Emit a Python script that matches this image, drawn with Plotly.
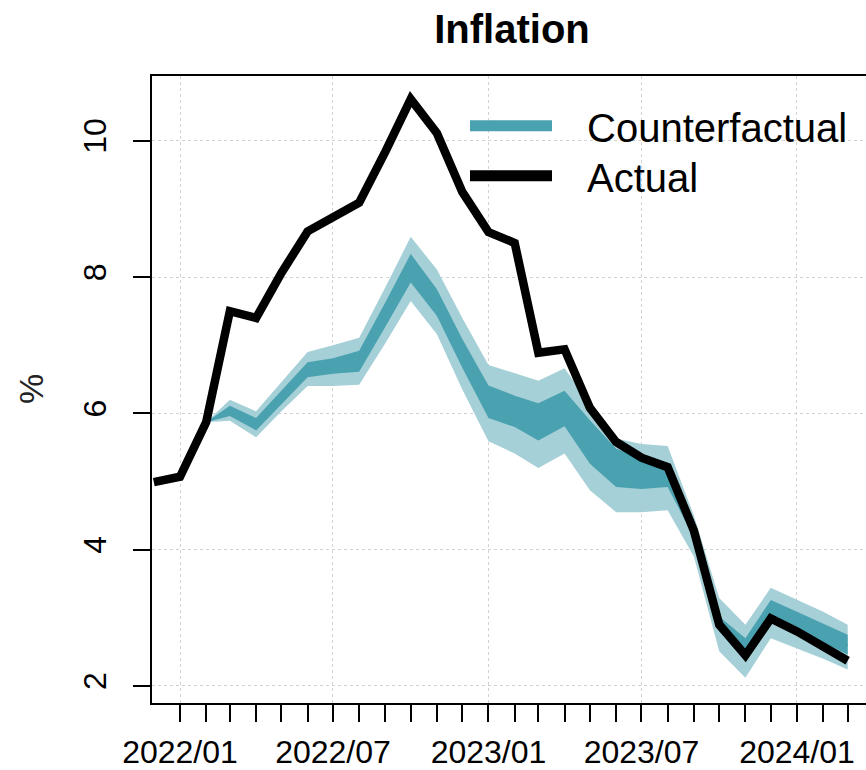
import plotly.graph_objects as go

# ---------------- data ----------------
months = ["2021-12-01", "2022-01-01", "2022-02-01", "2022-03-01", "2022-04-01", "2022-05-01",
          "2022-06-01", "2022-07-01", "2022-08-01", "2022-09-01", "2022-10-01", "2022-11-01",
          "2022-12-01", "2023-01-01", "2023-02-01", "2023-03-01", "2023-04-01", "2023-05-01",
          "2023-06-01", "2023-07-01", "2023-08-01", "2023-09-01", "2023-10-01", "2023-11-01",
          "2023-12-01", "2024-01-01", "2024-02-01", "2024-03-01"]

actual = [4.99, 5.07, 5.87, 7.50, 7.40, 8.06, 8.67, 8.87, 9.09, 9.84, 10.61, 10.11,
          9.25, 8.66, 8.50, 6.89, 6.94, 6.08, 5.58, 5.35, 5.21, 4.28, 2.90, 2.45,
          2.99, 2.80, 2.58, 2.37]

# counterfactual (from 2022-02 onwards)
cf_months = months[2:]
cf_hi95 = [5.87, 6.20, 6.03, 6.46, 6.90, 7.00, 7.11, 7.85, 8.59, 8.11, 7.40, 6.71, 6.59,
           6.48, 6.66, 6.14, 5.63, 5.55, 5.52, 4.50, 3.29, 2.90, 3.44, 3.27, 3.09, 2.90]
cf_hi68 = [5.87, 6.11, 5.93, 6.34, 6.75, 6.81, 6.92, 7.63, 8.34, 7.82, 7.09, 6.41, 6.26,
           6.15, 6.33, 5.90, 5.48, 5.36, 5.28, 4.38, 3.02, 2.70, 3.26, 3.09, 2.92, 2.75]
cf_med  = [5.87, 6.04, 5.84, 6.24, 6.64, 6.70, 6.77, 7.45, 8.13, 7.63, 6.88, 6.17, 6.03,
           5.88, 6.07, 5.58, 5.20, 5.12, 5.10, 4.28, 2.91, 2.58, 3.13, 2.95, 2.78, 2.60]
cf_lo68 = [5.87, 5.96, 5.75, 6.14, 6.53, 6.58, 6.61, 7.27, 7.92, 7.43, 6.67, 5.93, 5.80,
           5.60, 5.81, 5.26, 4.92, 4.89, 4.92, 4.18, 2.80, 2.46, 2.99, 2.82, 2.64, 2.46]
cf_lo95 = [5.87, 5.89, 5.65, 6.03, 6.40, 6.40, 6.42, 7.03, 7.65, 7.16, 6.35, 5.59, 5.41,
           5.20, 5.41, 4.87, 4.55, 4.55, 4.58, 3.90, 2.51, 2.12, 2.70, 2.55, 2.40, 2.24]

label_ticks = ["2022-01-01", "2022-07-01", "2023-01-01", "2023-07-01", "2024-01-01"]
label_text = ["2022/01", "2022/07", "2023/01", "2023/07", "2024/01"]
minor_ticks = months[1:]
y_ticks = [2, 4, 6, 8, 10]

# ---------------- style ----------------
DARK = "#4aa1b0"
LIGHT = "#a6d0d7"
FONT = "Liberation Sans, Arial, sans-serif"
W, H = 866, 770
L, R, T, B = 152, 0, 76, 65
PW, PH = W - L - R, H - T - B


def px(x):
    return (x - L) / PW


def py(y):
    return (H - B - y) / PH


fig = go.Figure()

fig.add_trace(go.Scatter(x=cf_months, y=cf_lo95, mode="lines", line=dict(width=0, color=LIGHT),
                         showlegend=False, hoverinfo="skip"))
fig.add_trace(go.Scatter(x=cf_months, y=cf_hi95, mode="lines", line=dict(width=0, color=LIGHT),
                         fill="tonexty", fillcolor=LIGHT, showlegend=False, hoverinfo="skip"))
fig.add_trace(go.Scatter(x=cf_months, y=cf_lo68, mode="lines", line=dict(width=0, color=DARK),
                         showlegend=False, hoverinfo="skip"))
fig.add_trace(go.Scatter(x=cf_months, y=cf_hi68, mode="lines", line=dict(width=0, color=DARK),
                         fill="tonexty", fillcolor=DARK, showlegend=False, hoverinfo="skip"))
fig.add_trace(go.Scatter(x=cf_months, y=cf_med, mode="lines", line=dict(width=2, color=DARK),
                         name="Counterfactual", showlegend=False))
fig.add_trace(go.Scatter(x=months, y=actual, mode="lines", line=dict(width=8.5, color="black"),
                         name="Actual", showlegend=False))

# manual legend (R-style)
legend_items = [("Counterfactual", DARK, 126), ("Actual", "black", 176)]
for name, col, yy in legend_items:
    fig.add_shape(type="line", xref="paper", yref="paper", x0=px(470), x1=px(552),
                  y0=py(yy), y1=py(yy), line=dict(color=col, width=11))
    fig.add_annotation(xref="paper", yref="paper", x=px(585), y=py(yy + 2), text=name,
                       showarrow=False, xanchor="left", yanchor="middle",
                       font=dict(family=FONT, size=40, color="black"))

# y-axis title
fig.add_annotation(xref="paper", yref="paper", x=px(31), y=py(390), text="%", textangle=-90,
                   showarrow=False, xanchor="center", yanchor="middle",
                   font=dict(family=FONT, size=34, color="#222222"))

fig.update_layout(
    width=W, height=H,
    margin=dict(l=L, r=R, t=T, b=B, pad=0),
    paper_bgcolor="white", plot_bgcolor="white",
    showlegend=False,
    title=dict(text="<b>Inflation</b>", x=512 / W, xanchor="center", y=1 - 29 / H, yanchor="middle",
               font=dict(family=FONT, size=40, color="black")),
    font=dict(family=FONT, color="black"),
)

fig.update_xaxes(
    type="date",
    range=["2021-11-28 21:00", "2024-03-22 16:00"],
    tickmode="array", tickvals=label_ticks, ticktext=label_text,
    ticks="outside", ticklen=17, tickwidth=1.5, tickcolor="black",
    ticklabelstandoff=3,
    tickfont=dict(family=FONT, size=32, color="black"),
    showline=True, linecolor="black", linewidth=1.5, mirror=True,
    showgrid=True, gridcolor="#d2d2d2", gridwidth=1, griddash="dot",
    minor=dict(tickmode="array", tickvals=minor_ticks, ticks="outside", ticklen=17,
               tickwidth=1.5, tickcolor="black", showgrid=False),
    zeroline=False,
)
fig.update_yaxes(
    range=[1.75, 10.95],
    tickmode="array", tickvals=y_ticks, ticktext=[str(v) for v in y_ticks],
    tickangle=-90,
    ticks="outside", ticklen=17, tickwidth=1.5, tickcolor="black",
    ticklabelstandoff=14,
    tickfont=dict(family=FONT, size=32, color="black"),
    showline=True, linecolor="black", linewidth=1.5, mirror=False,
    showgrid=True, gridcolor="#d2d2d2", gridwidth=1, griddash="dot",
    zeroline=False,
)

fig.write_html("out.html")
